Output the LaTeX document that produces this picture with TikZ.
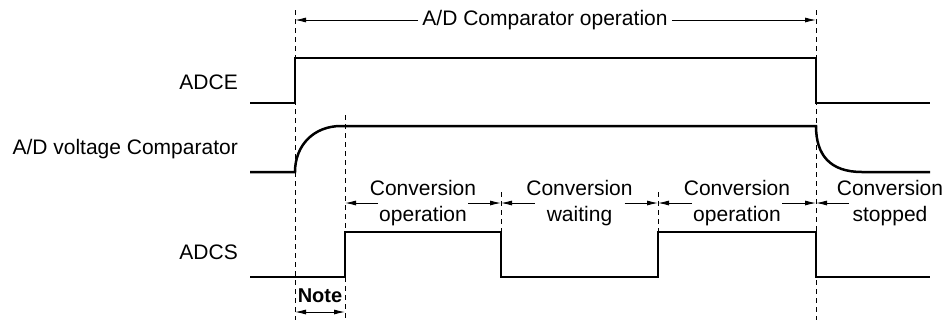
\documentclass[tikz,border=0pt]{standalone}
\usepackage{fontspec}
\setmainfont{Liberation Sans}
\usetikzlibrary{arrows.meta}
\begin{document}
\begin{tikzpicture}[x=1pt,y=-1pt]
\tikzset{
  sig/.style={line width=2.5pt, line join=miter},
  guide/.style={line width=0.9pt, dash pattern=on 5pt off 4pt},
  dimarrow/.style={line width=0.9pt, -{Latex[length=11pt,width=5pt]}},
  dimboth/.style={line width=0.9pt, {Latex[length=11pt,width=5pt]}-{Latex[length=11pt,width=5pt]}},
  lbl/.style={font=\fontsize{21}{26}\selectfont, inner sep=0pt, align=center},
  signame/.style={lbl, anchor=east},
}
\useasboundingbox (0,0) rectangle (949,322);

% guide lines
\coordinate (g1t) at (295,10);  \coordinate (g1b) at (295,320);
\coordinate (g2t) at (345,115); \coordinate (g2b) at (345,320);
\coordinate (g3t) at (501,192); \coordinate (g3b) at (501,231);
\coordinate (g4t) at (658,192); \coordinate (g4b) at (658,231);
\coordinate (g5t) at (816,10);  \coordinate (g5b) at (816,320);
\draw[guide] (g1t) -- (g1b);
\draw[guide] (g2t) -- (g2b);
\draw[guide] (g3t) -- (g3b);
\draw[guide] (g4t) -- (g4b);
\draw[guide] (g5t) -- (g5b);

% signal names
\node[signame] (nadce) at (238,82) {ADCE};
\node[signame] (ncomp) at (238,149) {A/D voltage Comparator};
\node[signame] (nadcs) at (238,252) {ADCS};

% signals
\draw[sig] (250,103) -- (295,103) -- (295,58) -- (816,58) -- (816,103) -- (930,103);
\draw[sig] (250,172) -- (295,172) .. controls (295,145) and (314,126) .. (341,126)
  -- (816,126) .. controls (816,155) and (830,172) .. (862,172) -- (930,172);
\draw[sig] (250,277) -- (345,277) -- (345,232) -- (501,232) -- (501,277)
  -- (658,277) -- (658,232) -- (816,232) -- (816,277) -- (930,277);

% top dimension
\node[lbl, inner sep=4pt] (top) at (545,20) {A/D Comparator operation};
\coordinate (tl) at (295,20); \coordinate (tr) at (816,20);
\draw[dimarrow] (top.west) -- (tl);
\draw[dimarrow] (top.east) -- (tr);

% conversion phases
\node[lbl] (op1) at (423,203) {Conversion\\operation};
\node[lbl] (wt) at (579.5,203) {Conversion\\waiting};
\node[lbl] (op2) at (737,203) {Conversion\\operation};
\node[lbl] (st) at (890,203) {Conversion\\stopped};

\coordinate (op1l) at (378,203); \coordinate (op1r) at (468,203);
\coordinate (wtl) at (534.5,203); \coordinate (wtr) at (624.5,203);
\coordinate (op2l) at (692,203); \coordinate (op2r) at (782,203);
\coordinate (stl) at (849,203);
\coordinate (a1) at (345,203); \coordinate (a2) at (501,203);
\coordinate (a3) at (658,203); \coordinate (a4) at (816,203);
\draw[dimarrow] (op1l) -- (a1);
\draw[dimarrow] (op1r) -- (a2);
\draw[dimarrow] (wtl) -- (a2);
\draw[dimarrow] (wtr) -- (a3);
\draw[dimarrow] (op2l) -- (a3);
\draw[dimarrow] (op2r) -- (a4);
\draw[dimarrow] (stl) -- (a4);

% note
\node[lbl, font=\fontsize{20}{22}\selectfont\bfseries] (note) at (320,296) {Note};
\coordinate (nl) at (295,312); \coordinate (nr) at (345,312);
\draw[dimboth] (nl) -- (nr);
\end{tikzpicture}
\end{document}
